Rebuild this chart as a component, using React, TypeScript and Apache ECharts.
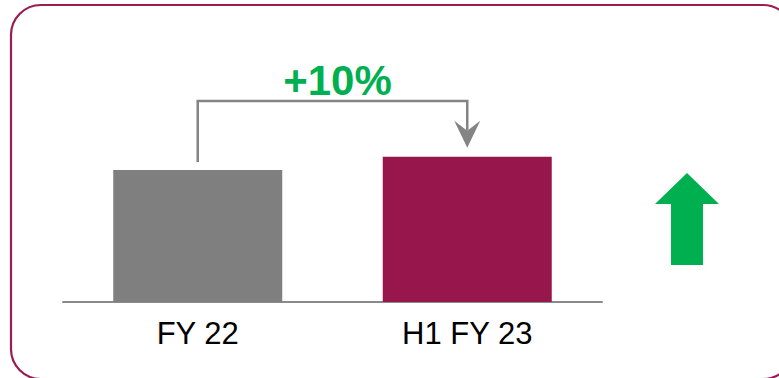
import React, { useEffect, useRef } from "react";
import * as echarts from "echarts";

// Periods on the category axis and the value reported for each
const categories: string[] = ["FY 22", "H1 FY 23"];
const values: number[] = [100, 110];
const barColors: string[] = ["#7f7f7f", "#97174d"];

const GREEN = "#00b050";
const CONNECTOR = "#848484";
const FRAME = "#9b1b52";
const FONT = "'Liberation Sans', Arial, Helvetica, sans-serif";

export default function App() {
  const ref = useRef<HTMLDivElement | null>(null);

  useEffect(() => {
    if (!ref.current) return;
    const chart = echarts.init(ref.current, null, { renderer: "svg" });

    chart.setOption({
      animation: false,
      backgroundColor: "#ffffff",
      grid: { left: 63, right: 177, top: 104, bottom: 76, containLabel: false },
      xAxis: {
        type: "category",
        data: categories,
        axisTick: { show: false },
        axisLine: { lineStyle: { color: "#8a8a8a", width: 2 } },
        axisLabel: {
          color: "#000000",
          fontSize: 31,
          fontFamily: FONT,
          margin: 16,
        },
      },
      yAxis: {
        type: "value",
        min: 0,
        max: 150,
        show: false,
        splitLine: { show: false },
      },
      series: [
        {
          type: "bar",
          barWidth: 169,
          data: values.map((v, i) => ({ value: v, itemStyle: { color: barColors[i] } })),
          silent: true,
        },
      ],
    });

    // Growth connector from the first bar to the second, plus the trend arrow
    const [x0, y0] = chart.convertToPixel({ seriesIndex: 0 }, [0, values[0]]) as number[];
    const [x1, y1] = chart.convertToPixel({ seriesIndex: 0 }, [1, values[1]]) as number[];
    const bracketY = 101;
    const startY = y0 - 8;
    const tipY = y1 - 9;
    const growth = ((values[1] - values[0]) / values[0]) * 100;
    const growthText = (growth >= 0 ? "+" : "") + Math.round(growth) + "%";

    chart.setOption({
      graphic: [
        {
          type: "rect",
          shape: { x: 11, y: 5, width: 782, height: 374, r: 30 },
          style: { fill: "none", stroke: FRAME, lineWidth: 2.2 },
          silent: true,
        },
        {
          type: "polyline",
          shape: {
            points: [
              [x0, startY],
              [x0, bracketY],
              [x1, bracketY],
              [x1, tipY - 17],
            ],
          },
          style: { stroke: CONNECTOR, lineWidth: 2.5, fill: "none" },
          silent: true,
        },
        {
          type: "polygon",
          shape: {
            points: [
              [x1 - 13, tipY - 27],
              [x1, tipY - 17],
              [x1 + 13, tipY - 27],
              [x1, tipY],
            ],
          },
          style: { fill: CONNECTOR },
          silent: true,
        },
        {
          type: "text",
          x: (x0 + x1) / 2 + 5,
          y: 80,
          style: {
            text: growthText,
            fill: GREEN,
            font: `bold 42px ${FONT}`,
            align: "center",
            verticalAlign: "middle",
          },
          silent: true,
        },
        {
          type: "polygon",
          shape: {
            points: [
              [687, 173],
              [719, 204],
              [703, 204],
              [703, 265],
              [671, 265],
              [671, 204],
              [655, 204],
            ],
          },
          style: { fill: GREEN },
          silent: true,
        },
      ],
    });

    return () => chart.dispose();
  }, []);

  return (
    <div
      ref={ref}
      style={{ position: "fixed", left: 0, top: 0, width: 779, height: 378 }}
    />
  );
}
